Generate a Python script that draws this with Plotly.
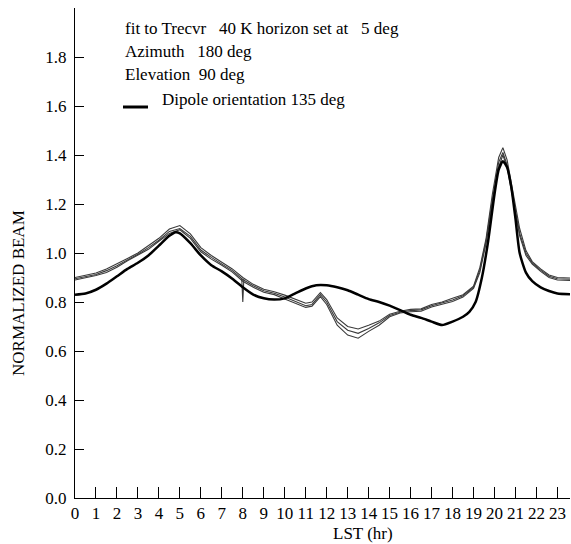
import plotly.graph_objects as go

# ---- data ----
lst_model = [0, 0.5, 1, 1.5, 2, 2.5, 3, 3.5, 4, 4.5, 4.8, 5, 5.5, 6, 6.5, 7, 7.5, 8, 8.5, 9,
             9.5, 10, 10.5, 11, 11.5, 12, 12.5, 13, 13.5, 14, 14.5, 15, 15.5, 16, 16.5, 17,
             17.5, 18, 18.5, 18.8, 19.1, 19.4, 19.7, 20.0, 20.2, 20.4, 20.6, 20.8, 21.0,
             21.2, 21.5, 21.8, 22.2, 22.6, 23, 23.6]
beam_model = [0.83, 0.835, 0.85, 0.875, 0.905, 0.935, 0.96, 0.99, 1.03, 1.07, 1.085, 1.08,
              1.04, 0.99, 0.95, 0.925, 0.895, 0.86, 0.83, 0.815, 0.81, 0.815, 0.835, 0.855,
              0.868, 0.868, 0.86, 0.848, 0.83, 0.812, 0.8, 0.785, 0.767, 0.748, 0.735, 0.72,
              0.706, 0.72, 0.74, 0.76, 0.8, 0.9, 1.05, 1.24, 1.34, 1.375, 1.35, 1.27, 1.14,
              1.0, 0.92, 0.885, 0.86, 0.845, 0.835, 0.832]

lst_data = [0, 0.5, 1, 1.5, 2, 2.5, 3, 3.5, 4, 4.5, 5, 5.5, 6, 6.5, 7, 7.5, 8, 8.5, 9, 9.5,
            10, 10.5, 11, 11.3, 11.7, 12, 12.5, 13, 13.5, 14, 14.5, 15, 15.5, 16, 16.5, 17,
            17.5, 18, 18.5, 19, 19.3, 19.6, 19.9, 20.2, 20.4, 20.6, 20.9, 21.2, 21.5, 21.8,
            22.2, 22.6, 23, 23.6]
beam_a = [0.90, 0.91, 0.918, 0.935, 0.955, 0.978, 1.0, 1.03, 1.06, 1.098, 1.112, 1.078,
          1.022, 0.99, 0.962, 0.935, 0.90, 0.872, 0.852, 0.842, 0.828, 0.81, 0.795, 0.80,
          0.838, 0.81, 0.735, 0.70, 0.69, 0.705, 0.722, 0.75, 0.762, 0.77, 0.772, 0.79,
          0.80, 0.815, 0.83, 0.865, 0.94, 1.06, 1.24, 1.39, 1.43, 1.38, 1.24, 1.1, 1.01,
          0.965, 0.935, 0.91, 0.9, 0.898]
beam_b = [0.895, 0.905, 0.912, 0.928, 0.948, 0.972, 0.995, 1.022, 1.052, 1.088, 1.100,
          1.068, 1.012, 0.982, 0.955, 0.928, 0.892, 0.866, 0.846, 0.836, 0.82, 0.802, 0.785,
          0.79, 0.83, 0.80, 0.72, 0.685, 0.672, 0.692, 0.715, 0.745, 0.758, 0.765, 0.768,
          0.785, 0.795, 0.808, 0.825, 0.86, 0.93, 1.05, 1.22, 1.37, 1.41, 1.36, 1.22, 1.08,
          1.00, 0.96, 0.93, 0.905, 0.895, 0.893]
beam_c = [0.89, 0.898, 0.908, 0.92, 0.942, 0.968, 0.99, 1.015, 1.048, 1.08, 1.095, 1.06,
          1.005, 0.975, 0.95, 0.922, 0.885, 0.86, 0.84, 0.83, 0.812, 0.795, 0.778, 0.783,
          0.822, 0.79, 0.705, 0.665, 0.652, 0.68, 0.705, 0.74, 0.755, 0.76, 0.762, 0.78,
          0.79, 0.802, 0.82, 0.855, 0.92, 1.04, 1.2, 1.35, 1.40, 1.35, 1.21, 1.07, 0.99,
          0.955, 0.925, 0.9, 0.89, 0.888]
lst_glitch = [7.95, 8.0, 8.05]
beam_glitch = [0.895, 0.80, 0.895]

x_ticks = list(range(0, 24))
y_ticks = [0.0, 0.2, 0.4, 0.6, 0.8, 1.0, 1.2, 1.4, 1.6, 1.8]
y_ticktext = ["0.0", "0.2", "0.4", "0.6", "0.8", "1.0", "1.2", "1.4", "1.6", "1.8"]

FONT = "Liberation Serif, Times New Roman, serif"

fig = go.Figure()
for ys in (beam_a, beam_b, beam_c):
    fig.add_trace(go.Scatter(x=lst_data, y=ys, mode="lines",
                             line=dict(color="#3a3a3a", width=1.1), showlegend=False))
fig.add_trace(go.Scatter(x=lst_glitch, y=beam_glitch, mode="lines",
                         line=dict(color="#3a3a3a", width=1.1), showlegend=False))
fig.add_trace(go.Scatter(x=lst_model, y=beam_model, mode="lines",
                         line=dict(color="black", width=2.5, shape="spline", smoothing=0.6),
                         showlegend=False))

W, H = 571, 544
L, R, T, B = 75, 1, 8, 46
pw, ph = W - L - R, H - T - B

def px(xp):
    return (xp - L) / pw

def py(yp):
    return 1 - (yp - T) / ph

ann = []
lines = [
    ("fit to Trecvr\u00a0\u00a0\u00a040 K horizon set at\u00a0\u00a0\u00a05 deg", 123, 29),
    ("Azimuth\u00a0\u00a0\u00a0180 deg", 123, 52),
    ("Elevation\u00a0\u00a090 deg", 123, 75),
    ("Dipole orientation 135 deg", 160, 99),
]
for txt, xp, yp in lines:
    ann.append(dict(text=txt, x=px(xp), y=py(yp), xref="paper", yref="paper",
                    xanchor="left", yanchor="middle", showarrow=False,
                    font=dict(family=FONT, size=17, color="black")))
ann.append(dict(text="NORMALIZED BEAM", x=px(18), y=py(293), xref="paper", yref="paper",
                textangle=-90, xanchor="center", yanchor="middle", showarrow=False,
                font=dict(family=FONT, size=17, color="black")))
ann.append(dict(text="LST (hr)", x=px(363), y=py(533), xref="paper", yref="paper",
                xanchor="center", yanchor="middle", showarrow=False,
                font=dict(family=FONT, size=17, color="black")))

fig.update_layout(
    width=W, height=H,
    margin=dict(l=L, r=R, t=T, b=B, pad=0),
    paper_bgcolor="white", plot_bgcolor="white",
    font=dict(family=FONT, size=17, color="black"),
    annotations=ann,
    shapes=[dict(type="line", xref="paper", yref="paper",
                 x0=px(123), x1=px(148), y0=py(107), y1=py(107),
                 line=dict(color="black", width=3))],
)
fig.update_xaxes(range=[0, 23.6], tickvals=x_ticks, ticks="inside", ticklen=11,
                 tickcolor="black", tickwidth=1, showline=True, linecolor="black",
                 linewidth=1, showgrid=False, zeroline=False, mirror=False,
                 tickfont=dict(family=FONT, size=17))
fig.update_yaxes(range=[0, 2.0], tickvals=y_ticks, ticktext=y_ticktext, ticks="inside",
                 ticklen=9, tickcolor="black", tickwidth=1, showline=True,
                 linecolor="black", linewidth=1, showgrid=False, zeroline=False,
                 mirror=False, ticklabelstandoff=4, tickfont=dict(family=FONT, size=17))

fig.write_html("out.html")
